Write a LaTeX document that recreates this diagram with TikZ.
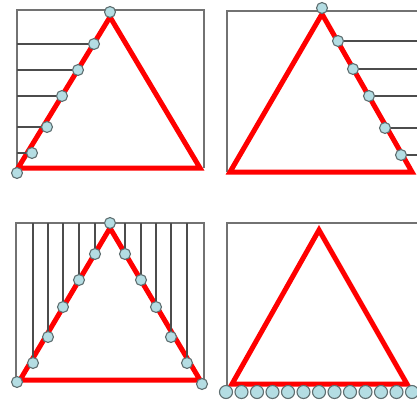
\documentclass[tikz,border=0pt]{standalone}
\usetikzlibrary{calc}
\definecolor{beadc}{HTML}{B4DDE3}
\definecolor{rimc}{HTML}{5E6E70}
\definecolor{framec}{HTML}{727272}

\begin{document}
\begin{tikzpicture}[x=1pt, y=-1pt,
		frm/.style={draw=framec, line width=1.4pt},
		tri/.style={draw=red, line width=5pt, line join=miter},
		wire/.style={draw=black!70, line width=1.1pt},
		bd/.style={circle, draw=rimc, fill=beadc, line width=1.1pt,
				minimum size=11pt, inner sep=0pt},
		bigbd/.style={bd, minimum size=13pt},
		]
		\useasboundingbox (0,0) rectangle (417,401);

		% ---- Panel 1: left side, horizontal wires ----
		\draw[frm] (17,173) |- (204,10) -- (204,168);
		\draw[tri] (18,168) -- (110,17) -- (200,168) -- cycle;
		\node[bd] (p1a) at (17,173) {};
		\node[bd] (p1top) at (110,12) {};
		\foreach \i/\x/\y in {1/32/153,2/47/127,3/62/96,4/78/70,5/94/44} {
				\node[bd] (p1b\i) at (\x,\y) {};
				\coordinate (p1e\i) at (17,\y);
				\draw[wire] (p1e\i) -- (p1b\i);
			}

		% ---- Panel 2: right side, horizontal wires ----
		\draw[frm] (227,172) |- (417,11);
		\draw[tri] (230,172) -- (322,14) -- (412,172) -- cycle;
		\node[bd] (p2top) at (322,8) {};
		\foreach \i/\x/\y in {1/338/41,2/353/69,3/369/96,4/385/128,5/401/155} {
				\node[bd] (p2b\i) at (\x,\y) {};
				\coordinate (p2e\i) at (417,\y);
				\draw[wire] (p2b\i) -- (p2e\i);
			}

		% ---- Panel 3: both sides, vertical wires ----
		\draw[frm] (16,382) |- (204,223) -- (204,382);
		\draw[tri] (20,380) -- (110,228) -- (200,380) -- cycle;
		\node[bd] (p3l) at (17,382) {};
		\node[bd] (p3r) at (202,384) {};
		\node[bd] (p3top) at (110,223) {};
		\foreach \i/\x/\y in {1/33/363,2/48/337,3/63/307,4/79/280,5/95/254,
				6/125/254,7/141/280,8/156/307,9/171/337,10/187/363} {
				\node[bd] (p3b\i) at (\x,\y) {};
				\coordinate (p3e\i) at (\x,223);
				\draw[wire] (p3e\i) -- (p3b\i);
			}

		% ---- Panel 4: beads along the base ----
		\draw[frm] (227,386) |- (417,223);
		\draw[tri] (232,384) -- (319,230) -- (407,384) -- cycle;
		\foreach \i in {0,...,12} {
				\node[bigbd] (p4b\i) at ({226+15.5*\i},392) {};
			}

	\end{tikzpicture}
\end{document}
